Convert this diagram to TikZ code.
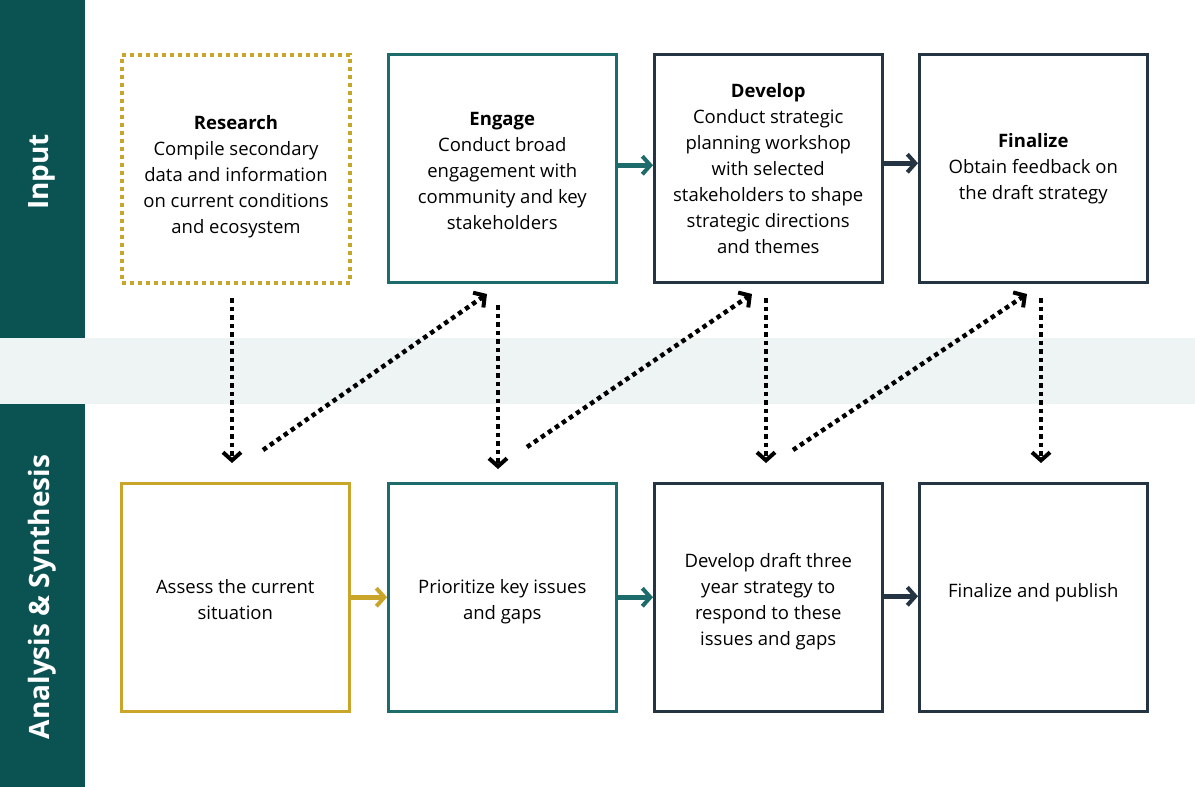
\documentclass[tikz,border=0pt]{standalone}
\usepackage{fontspec}
\setmainfont{Open Sans}
\usetikzlibrary{arrows.meta}
\definecolor{barteal}{HTML}{0B5253}
\definecolor{band}{HTML}{EEF4F4}
\definecolor{gold}{HTML}{C9A62A}
\definecolor{teal}{HTML}{1E6B6B}
\definecolor{navy}{HTML}{253443}
\begin{document}
\begin{tikzpicture}[x=1pt,y=-1pt,
  box/.style={draw,line width=2.5pt,minimum width=228pt,minimum height=228pt,anchor=north west,inner sep=0pt},
  txt/.style={align=center,font=\fontsize{18.5}{26}\selectfont,text=black},
  flow/.style={line width=4.5pt,-{Straight Barb[length=8pt,width=18pt,line width=4pt]}},
  hop/.style={line width=4.5pt,dash pattern=on 4.5pt off 4pt,-{Straight Barb[length=8pt,width=18pt,line width=4pt]}},
  lbl/.style={rotate=90,text=white,font=\fontsize{28}{30}\selectfont\bfseries}]
\useasboundingbox (0,0) rectangle (1195,787);
\fill[white] (0,0) rectangle (1195,787);
\fill[band] (0,338) rectangle (1195,404);
\fill[barteal] (0,0) rectangle (85,338);
\fill[barteal] (0,404) rectangle (85,787);
\node[lbl] (lin) at (42,172) {Input};
\node[lbl] (lan) at (42,597) {Analysis \& Synthesis};
% top row
\node[box,draw=gold,line width=4pt,dash pattern=on 4pt off 4pt] (r1) at (120,53) {};
\node[box,draw=teal] (r2) at (387,53) {};
\node[box,draw=navy] (r3) at (653,53) {};
\node[box,draw=navy] (r4) at (918,53) {};
% bottom row
\node[box,draw=gold] (b1) at (120,482) {};
\node[box,draw=teal] (b2) at (387,482) {};
\node[box,draw=navy] (b3) at (653,482) {};
\node[box,draw=navy] (b4) at (918,482) {};
% texts
\node[txt] (t1) at ([yshift=-8pt]r1.center) {\textbf{Research}\\Compile secondary\\data and information\\on current conditions\\and ecosystem};
\node[txt] (t2) at ([yshift=-3pt]r2.center) {\textbf{Engage}\\Conduct broad\\engagement with\\community and key\\stakeholders};
\node[txt] (t3) at (r3.center) {\textbf{Develop}\\Conduct strategic\\planning workshop\\with selected\\stakeholders to shape\\strategic directions\\and themes};
\node[txt] (t4) at (r4.center) {\textbf{Finalize}\\Obtain feedback on\\the draft strategy};
\node[txt] (u1) at ([yshift=-2pt]b1.center) {Assess the current\\situation};
\node[txt] (u2) at ([yshift=-4pt]b2.center) {Prioritize key issues\\and gaps};
\node[txt] (u3) at ([yshift=-4pt]b3.center) {Develop draft three\\year strategy to\\respond to these\\issues and gaps};
\node[txt] (u4) at ([yshift=5pt]b4.center) {Finalize and publish};
% solid flows
\draw[flow,teal] ([yshift=3pt]r2.east) -- ([yshift=3pt]r3.west);
\draw[flow,navy] ([yshift=5pt]r3.east) -- ([yshift=5pt]r4.west);
\draw[flow,gold] (b1.east) -- (b2.west);
\draw[flow,teal] (b2.east) -- (b3.west);
\draw[flow,navy] ([yshift=1pt]b3.east) -- ([yshift=1pt]b4.west);
% dotted hops
\coordinate (d1s) at (232,298); \coordinate (d1e) at (232,463);
\coordinate (e1s) at (263,450); \coordinate (e1e) at (487,294);
\coordinate (d2s) at (498,305); \coordinate (d2e) at (498,469);
\coordinate (e2s) at (527,447); \coordinate (e2e) at (752,294);
\coordinate (d3s) at (766,298); \coordinate (d3e) at (766,463);
\coordinate (e3s) at (793,450); \coordinate (e3e) at (1027,294);
\coordinate (d4s) at (1041,298); \coordinate (d4e) at (1041,463);
\draw[hop] (d1s) -- (d1e);
\draw[hop] (e1s) -- (e1e);
\draw[hop] (d2s) -- (d2e);
\draw[hop] (e2s) -- (e2e);
\draw[hop] (d3s) -- (d3e);
\draw[hop] (e3s) -- (e3e);
\draw[hop] (d4s) -- (d4e);
\end{tikzpicture}
\end{document}
